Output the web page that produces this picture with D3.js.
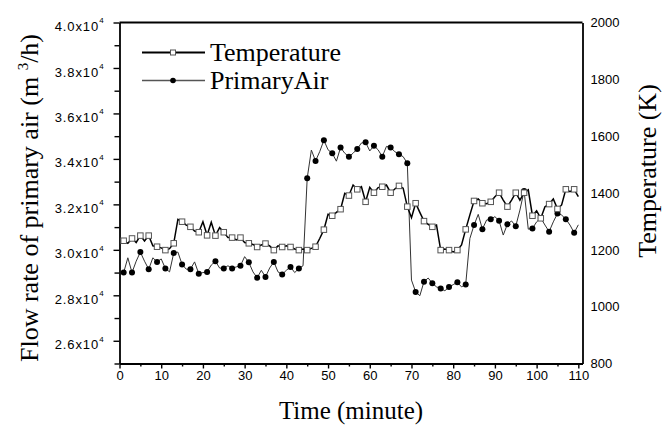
<!DOCTYPE html>
<html>
<head>
<meta charset="utf-8">
<script src="https://cdn.jsdelivr.net/npm/d3@7"></script>
<style>
  body { margin: 0; background: #fff; }
  text { fill: #000; }
</style>
</head>
<body>
<svg id="chart" width="663" height="430"></svg>
<script>
// Flow rate of primary air, in units of 1e4 m3/h, one value per minute starting at minute 1
const primaryAir = [
  2.900, 2.965, 2.900, 2.950, 2.990, 2.950, 2.915, 2.965, 2.947, 2.960,
  2.918, 2.903, 2.986, 2.990, 2.936, 2.915, 2.915, 2.947, 2.895, 2.900,
  2.903, 2.933, 2.950, 2.920, 2.918, 2.930, 2.918, 2.925, 2.930, 2.970,
  2.945, 2.903, 2.877, 2.910, 2.881, 2.920, 2.947, 2.903, 2.892, 2.910,
  2.925, 2.900, 2.918, 2.930, 3.315, 3.439, 3.391, 3.432, 3.482, 3.440,
  3.425, 3.390, 3.450, 3.425, 3.410, 3.425, 3.444, 3.470, 3.473, 3.435,
  3.458, 3.440, 3.410, 3.455, 3.450, 3.432, 3.420, 3.410, 3.381, 2.867,
  2.815, 2.798, 2.860, 2.876, 2.853, 2.837, 2.830, 2.820, 2.836, 2.847,
  2.857, 2.837, 2.848, 3.050, 3.109, 3.156, 3.091, 3.131, 3.134, 3.146,
  3.128, 3.065, 3.113, 3.127, 3.104, 3.175, 3.259, 3.091, 3.094, 3.123,
  3.140, 3.109, 3.080, 3.123, 3.160, 3.153, 3.135, 3.109, 3.075, 3.110
];
// Temperature, K, same minutes
const temperature = [
  1232, 1223, 1240, 1226, 1250, 1231, 1250, 1214, 1211, 1207,
  1199, 1204, 1223, 1307, 1299, 1287, 1281, 1266, 1262, 1299,
  1251, 1297, 1250, 1278, 1262, 1243, 1243, 1235, 1243, 1226,
  1223, 1219, 1210, 1217, 1222, 1214, 1199, 1214, 1210, 1214,
  1210, 1203, 1199, 1203, 1199, 1205, 1211, 1240, 1271, 1325,
  1320, 1332, 1343, 1399, 1391, 1428, 1413, 1422, 1369, 1420,
  1401, 1419, 1422, 1428, 1401, 1414, 1425, 1417, 1352, 1313,
  1364, 1332, 1301, 1290, 1281, 1287, 1199, 1203, 1199, 1193,
  1199, 1217, 1272, 1323, 1372, 1379, 1364, 1362, 1369, 1387,
  1401, 1375, 1352, 1375, 1401, 1375, 1401, 1411, 1320, 1337,
  1311, 1352, 1361, 1379, 1344, 1358, 1413, 1405, 1413, 1387
];
const firstMinute = 1;

const xTicks = [0, 10, 20, 30, 40, 50, 60, 70, 80, 90, 100, 110];
const xMinorTicks = [5, 15, 25, 35, 45, 55, 65, 75, 85, 95, 105];
const leftTicks = [2.6, 2.8, 3.0, 3.2, 3.4, 3.6, 3.8, 4.0];
const leftMinorTicks = [2.5, 2.7, 2.9, 3.1, 3.3, 3.5, 3.7, 3.9];
const rightTicks = [800, 1000, 1200, 1400, 1600, 1800, 2000];

const seriesNames = ['Temperature', 'PrimaryAir'];

/*********************
 * Scales
 *********************/
const svg = d3.select('#chart');
const plotLeft = 119.5, plotRight = 582.5, plotTop = 22.5, plotBottom = 363.5;

const x = d3.scaleLinear().domain([0, 111]).range([plotLeft, plotRight]);
const yAir = d3.scaleLinear().domain([2.5, 4.0]).range([plotBottom, plotTop]);
const yTemp = d3.scaleLinear().domain([800, 2000]).range([plotBottom, plotTop]);

const airData = primaryAir.map((v, i) => ({t: i + firstMinute, v: v}));
const tempData = temperature.map((v, i) => ({t: i + firstMinute, v: v}));

const tickFont = 'Arial, "Liberation Sans", sans-serif';
const serifFont = '"Times New Roman", "Liberation Serif", serif';

/*********************
 * Axes
 *********************/
function styleAxis(g) {
  g.select('.domain').attr('stroke', '#000').attr('stroke-width', 1.8);
  g.selectAll('.tick line').attr('stroke', '#000').attr('stroke-width', 1.4);
  g.selectAll('.tick text').attr('font-family', tickFont).attr('font-size', 13).attr('fill', '#000');
}

// x axis
svg.append('g')
  .attr('transform', `translate(0,${plotBottom})`)
  .call(d3.axisBottom(x).tickValues(xMinorTicks).tickSize(3).tickFormat(''))
  .call(g => g.select('.domain').remove())
  .call(styleAxis);
svg.append('g')
  .attr('transform', `translate(0,${plotBottom})`)
  .call(d3.axisBottom(x).tickValues(xTicks).tickSize(5).tickSizeOuter(0).tickPadding(2))
  .call(styleAxis);

// left axis
svg.append('g')
  .attr('transform', `translate(${plotLeft},0)`)
  .call(d3.axisLeft(yAir).tickValues(leftMinorTicks).tickSize(5).tickFormat(''))
  .call(g => g.select('.domain').remove())
  .call(styleAxis);
const leftAxis = svg.append('g')
  .attr('transform', `translate(${plotLeft},0)`)
  .call(d3.axisLeft(yAir).tickValues(leftTicks).tickSize(6).tickSizeOuter(0).tickPadding(9))
  .call(styleAxis);

leftAxis.selectAll('.tick text')
  .text(null)
  .attr('dy', '0.62em')
  .attr('letter-spacing', 0.9)
  .call(t => {
    t.append('tspan').text(d => d.toFixed(1) + 'x10');
    t.append('tspan').attr('font-size', 8).attr('dy', '-0.95em').text('4');
  });

// right axis
svg.append('g')
  .attr('transform', `translate(${plotRight},0)`)
  .call(d3.axisRight(yTemp).tickValues(rightTicks).tickFormat(d3.format('d'))
    .tickSize(0).tickSizeOuter(0).tickPadding(8))
  .call(styleAxis);

// top border
svg.append('line')
  .attr('x1', plotLeft).attr('x2', plotRight)
  .attr('y1', plotTop).attr('y2', plotTop)
  .attr('stroke', '#000').attr('stroke-width', 1.8);

/*********************
 * Axis titles
 *********************/
svg.append('text')
  .attr('x', (plotLeft + plotRight) / 2)
  .attr('y', 419)
  .attr('text-anchor', 'middle')
  .attr('font-family', serifFont)
  .attr('font-size', 25)
  .text('Time (minute)');

const leftTitle = svg.append('text')
  .attr('transform', 'translate(38,198) rotate(-90)')
  .attr('text-anchor', 'middle')
  .attr('font-family', serifFont)
  .attr('font-size', 26);
leftTitle.append('tspan').text('Flow rate of primary air (m ');
leftTitle.append('tspan').attr('font-size', 15).attr('dy', -10).text('3');
leftTitle.append('tspan').attr('dy', 10).text('/h)');

svg.append('text')
  .attr('transform', 'translate(656,171) rotate(-90)')
  .attr('text-anchor', 'middle')
  .attr('font-family', serifFont)
  .attr('font-size', 26)
  .text('Temperature (K)');

/*********************
 * Series
 *********************/
const airLine = d3.line().x(d => x(d.t)).y(d => yAir(d.v));
const tempLine = d3.line().x(d => x(d.t)).y(d => yTemp(d.v));

svg.append('path')
  .datum(airData)
  .attr('d', airLine)
  .attr('fill', 'none')
  .attr('stroke', '#333')
  .attr('stroke-width', 1);

svg.append('g').selectAll('circle')
  .data(airData.filter(d => d.t % 2 === 1))
  .enter()
  .append('circle')
  .attr('cx', d => x(d.t))
  .attr('cy', d => yAir(d.v))
  .attr('r', 3)
  .attr('fill', '#000');

svg.append('path')
  .datum(tempData)
  .attr('d', tempLine)
  .attr('fill', 'none')
  .attr('stroke', '#000')
  .attr('stroke-width', 1.5);

const sq = 5.5;
svg.append('g').selectAll('rect')
  .data(tempData.filter(d => d.t % 2 === 1))
  .enter()
  .append('rect')
  .attr('x', d => x(d.t) - sq / 2)
  .attr('y', d => yTemp(d.v) - sq / 2)
  .attr('width', sq)
  .attr('height', sq)
  .attr('fill', '#fff')
  .attr('stroke', '#555')
  .attr('stroke-width', 1);

/*********************
 * Legend
 *********************/
const legend = svg.append('g');
const legendRows = [52.5, 80.5];
legend.append('line')
  .attr('x1', 142).attr('x2', 205).attr('y1', legendRows[0]).attr('y2', legendRows[0])
  .attr('stroke', '#000').attr('stroke-width', 2);
legend.append('rect')
  .attr('x', 173 - 2.5).attr('y', legendRows[0] - 2.5).attr('width', 5).attr('height', 5)
  .attr('fill', '#fff').attr('stroke', '#555');
legend.append('line')
  .attr('x1', 142).attr('x2', 205).attr('y1', legendRows[1]).attr('y2', legendRows[1])
  .attr('stroke', '#555').attr('stroke-width', 1.4);
legend.append('circle')
  .attr('cx', 173).attr('cy', legendRows[1]).attr('r', 2.8).attr('fill', '#000');
legend.selectAll('text')
  .data(seriesNames)
  .enter()
  .append('text')
  .attr('x', 210)
  .attr('y', (d, i) => legendRows[i] + 8.5)
  .attr('font-family', serifFont)
  .attr('font-size', 26)
  .text(d => d);
</script>
</body>
</html>
